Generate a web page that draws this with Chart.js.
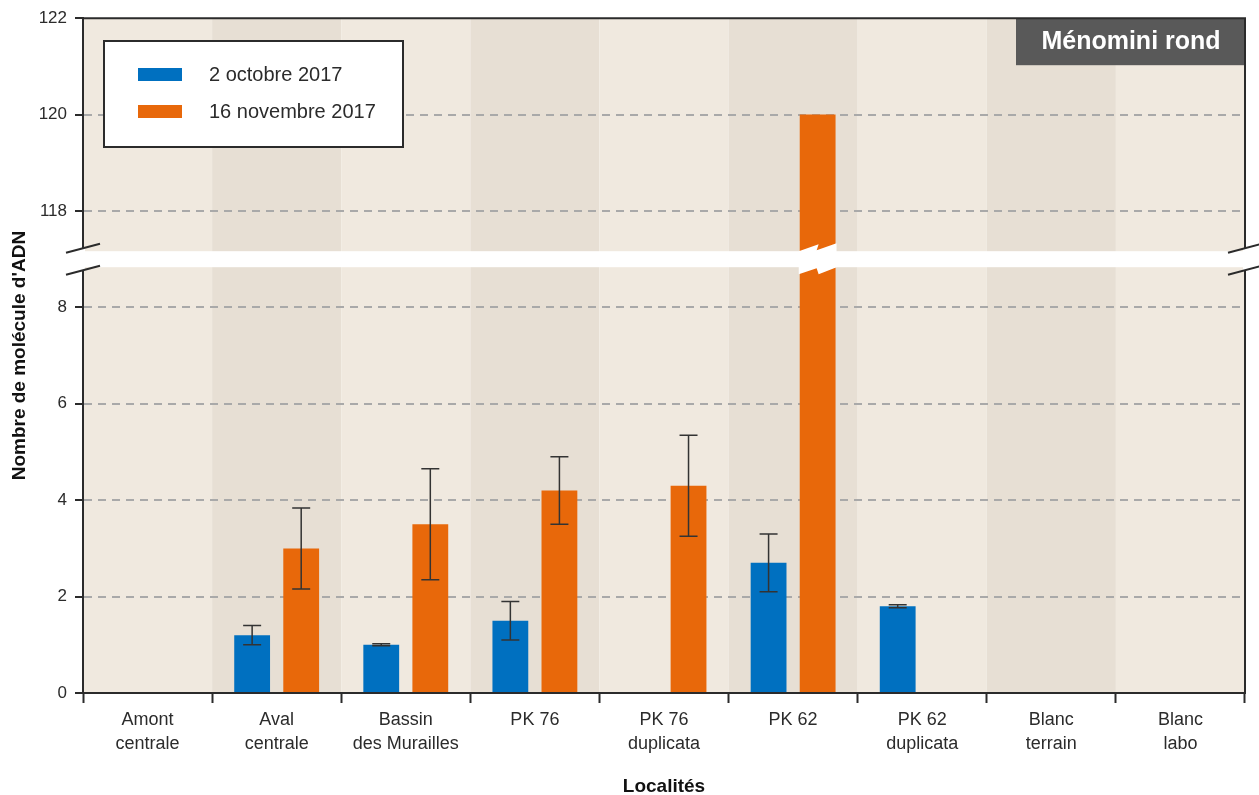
<!DOCTYPE html>
<html>
<head>
<meta charset="utf-8">
<script src="https://cdn.jsdelivr.net/npm/chart.js@4.4.0/dist/chart.umd.min.js"></script>
<style>
  html, body { margin: 0; padding: 0; background: #fff; }
  #wrap { width: 1259px; height: 795px; position: relative; }
</style>
</head>
<body>
<div id="wrap"><canvas id="myChart"></canvas></div>
<script>
// data
const categories = [['Amont', 'centrale'], ['Aval', 'centrale'], ['Bassin', 'des Murailles'], ['PK 76'],
  ['PK 76', 'duplicata'], ['PK 62'], ['PK 62', 'duplicata'], ['Blanc', 'terrain'], ['Blanc', 'labo']];
const seriesLabels = ['2 octobre 2017', '16 novembre 2017'];
const octValues = [null, 1.2, 1.0, 1.5, null, 2.7, 1.8, null, null];
const octErrors = [null, 0.2, 0.02, 0.4, null, 0.6, 0.03, null, null];
const novValues = [null, 3.0, 3.5, 4.2, 4.3, 120, null, null, null];
const novErrors = [null, 0.84, 1.15, 0.7, 1.05, null, null, null, null];
const lowerTicks = [0, 2, 4, 6, 8];
const upperTicks = [118, 120, 122];
const lowerRange = [0, 9];
const upperRange = [117, 122];
const panelTitle = 'Ménomini rond';
const xTitle = 'Localités';
const yTitle = "Nombre de molécule d'ADN";

const BLUE = '#0070c0';
const ORANGE = '#e8680a';
const INK = '#2b2b2b';
const FONT = '"Liberation Sans", Arial, sans-serif';

const novLower = novValues.map(v => v == null ? null : Math.min(v, lowerRange[1]));
const novUpper = novValues.map(v => v != null && v > lowerRange[1] ? v : null);

const gridColor = (keep) => (ctx) => keep.includes(ctx.tick && ctx.tick.value) ? '#a9a9a9' : 'rgba(0,0,0,0)';

const yScale = (min, max, ticks, weight, stackWeight) => ({
  type: 'linear',
  position: 'left',
  stack: 'y',
  stackWeight: stackWeight,
  weight: weight,
  min: min,
  max: max,
  afterBuildTicks: s => { s.ticks = ticks.map(v => ({ value: v })); },
  afterFit: s => { s.width = 83; },
  ticks: { color: INK, font: { family: FONT, size: 17 }, padding: 8 },
  grid: { color: gridColor(ticks.filter(v => v !== min && v !== max && v !== 0 && v !== 122)),
          lineWidth: 2, tickColor: INK, tickLength: 8, tickWidth: 2 },
  border: { display: true, color: INK, width: 2, dash: [8, 6] }
});

// page background + alternating category bands
const bands = {
  id: 'bands',
  beforeDraw(chart) {
    const { ctx, chartArea: a, scales: { x } } = chart;
    ctx.save();
    ctx.fillStyle = '#fff';
    ctx.fillRect(0, 0, chart.width, chart.height);
    const w = (a.right - a.left) / categories.length;
    categories.forEach((c, i) => {
      ctx.fillStyle = i % 2 ? '#e7dfd4' : '#f0e9df';
      ctx.fillRect(x.getPixelForValue(i) - w / 2, a.top, w, a.bottom - a.top);
    });
    ctx.restore();
  },
  beforeDatasetsDraw(chart) {
    const { ctx, chartArea: a } = chart;
    ctx.save();
    // panel title box
    ctx.fillStyle = '#595959';
    ctx.fillRect(a.right - 229, a.top, 229, 47);
    ctx.fillStyle = '#fff';
    ctx.font = 'bold 25px ' + FONT;
    ctx.textAlign = 'center';
    ctx.textBaseline = 'middle';
    ctx.fillText(panelTitle, a.right - 114, a.top + 24);
    // top and right frame
    ctx.strokeStyle = INK;
    ctx.lineWidth = 2;
    ctx.beginPath();
    ctx.moveTo(a.left, a.top);
    ctx.lineTo(a.right, a.top);
    ctx.lineTo(a.right, a.bottom);
    ctx.stroke();
    ctx.restore();
  }
};

// error bars + legend box
const extras = {
  id: 'extras',
  afterDatasetsDraw(chart) {
    const { ctx } = chart;
    const errs = [[octValues, octErrors], [novValues, novErrors]];
    ctx.save();
    ctx.strokeStyle = '#333';
    ctx.lineWidth = 1.5;
    errs.forEach(([vals, es], di) => {
      const meta = chart.getDatasetMeta(di);
      const ys = chart.scales[meta.yAxisID];
      es.forEach((e, i) => {
        if (e == null || vals[i] == null) return;
        const bx = meta.data[i].x;
        const t = ys.getPixelForValue(vals[i] + e);
        const b = ys.getPixelForValue(vals[i] - e);
        ctx.beginPath();
        ctx.moveTo(bx, t); ctx.lineTo(bx, b);
        ctx.moveTo(bx - 9, t); ctx.lineTo(bx + 9, t);
        ctx.moveTo(bx - 9, b); ctx.lineTo(bx + 9, b);
        ctx.stroke();
      });
    });
    // legend
    ctx.fillStyle = '#fff';
    ctx.fillRect(104, 41, 299, 106);
    ctx.strokeStyle = INK;
    ctx.lineWidth = 2;
    ctx.strokeRect(104, 41, 299, 106);
    ctx.font = '20px ' + FONT;
    ctx.textBaseline = 'middle';
    ctx.textAlign = 'left';
    [0, 1].forEach(di => {
      const ds = chart.data.datasets[di];
      const y = 74.5 + di * 37;
      ctx.fillStyle = ds.backgroundColor;
      ctx.fillRect(138, y - 6.5, 44, 13);
      ctx.fillStyle = INK;
      ctx.fillText(ds.label, 209, y + 1);
    });
    ctx.restore();
  },
  afterDraw(chart) {
    const { ctx, chartArea: a, scales } = chart;
    const yb = scales.yBot.top;
    ctx.save();
    // axis break band
    ctx.fillStyle = '#fff';
    ctx.fillRect(a.left - 2, yb - 8, a.right - a.left + 4, 16);
    ctx.fillRect(a.left - 2, yb - 11, 4, 22);
    ctx.fillRect(a.right - 2, yb - 11, 4, 22);
    // zigzag on bars that cross the break
    const meta = chart.getDatasetMeta(2);
    meta.data.forEach((bar, i) => {
      if (novUpper[i] == null) return;
      const x0 = bar.x - bar.width / 2 - 1, x1 = bar.x + bar.width / 2 + 1, xm = bar.x;
      ctx.beginPath();
      ctx.moveTo(x0, yb - 8);
      ctx.lineTo(xm + 1, yb - 15);
      ctx.lineTo(xm - 1, yb - 9);
      ctx.lineTo(x1, yb - 16);
      ctx.lineTo(x1, yb + 8);
      ctx.lineTo(xm + 1, yb + 15);
      ctx.lineTo(xm - 1, yb + 9);
      ctx.lineTo(x0, yb + 15);
      ctx.closePath();
      ctx.fill();
    });
    // break marks on both axes
    ctx.strokeStyle = INK;
    ctx.lineWidth = 2;
    [a.left, a.right].forEach(x => {
      [yb - 11, yb + 11].forEach(c => {
        ctx.beginPath();
        ctx.moveTo(x - 17, c + 4.5);
        ctx.lineTo(x + 17, c - 4.5);
        ctx.stroke();
      });
    });
    // axis titles
    ctx.fillStyle = '#111';
    ctx.font = 'bold 19px ' + FONT;
    ctx.textAlign = 'center';
    ctx.textBaseline = 'middle';
    ctx.fillText(xTitle, (a.left + a.right) / 2, 787);
    ctx.translate(20, (a.top + a.bottom) / 2);
    ctx.rotate(-Math.PI / 2);
    ctx.fillText(yTitle, 0, 0);
    ctx.restore();
  }
};

const ctx = document.getElementById('myChart').getContext('2d');
new Chart(ctx, {
  type: 'bar',
  data: {
    labels: categories,
    datasets: [
      { label: seriesLabels[0], data: octValues, yAxisID: 'yBot', stack: 'b', backgroundColor: BLUE },
      { label: seriesLabels[1], data: novLower, yAxisID: 'yBot', stack: 'n', backgroundColor: ORANGE },
      { label: seriesLabels[1], data: novUpper, yAxisID: 'yTop', stack: 'n', backgroundColor: ORANGE }
    ]
  },
  options: {
    responsive: true,
    maintainAspectRatio: false,
    animation: false,
    categoryPercentage: 0.76,
    barPercentage: 0.73,
    layout: { padding: { top: 18, right: 14, left: 0, bottom: 0 } },
    scales: {
      x: {
        type: 'category',
        afterFit: s => { s.height = 102; },
        ticks: { color: INK, font: { family: FONT, size: 18, lineHeight: 1.28 }, padding: 6, maxRotation: 0, autoSkip: false },
        grid: { display: true, drawOnChartArea: false, offset: true, color: INK, tickColor: INK, tickLength: 10, tickWidth: 2 },
        border: { display: true, color: INK, width: 2 }
      },
      yTop: yScale(upperRange[0], upperRange[1], upperTicks, 2, upperRange[1] - upperRange[0]),
      yBot: yScale(lowerRange[0], lowerRange[1], lowerTicks, 1, lowerRange[1] - lowerRange[0])
    },
    plugins: {
      legend: { display: false },
      tooltip: { enabled: false }
    }
  },
  plugins: [bands, extras]
});
</script>
</body>
</html>
